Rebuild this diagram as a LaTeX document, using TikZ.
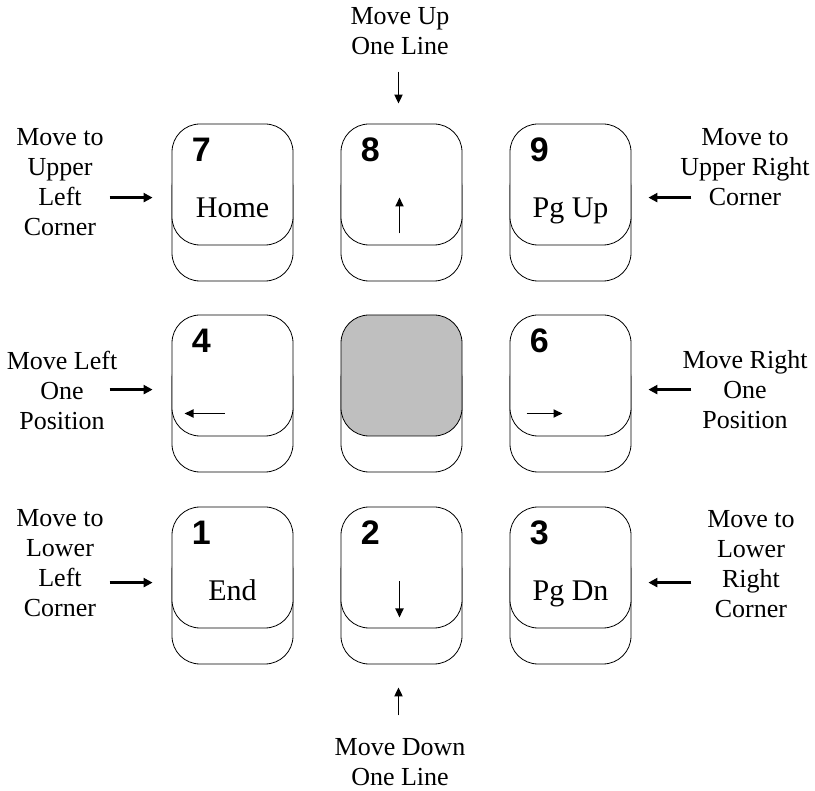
\documentclass[tikz,border=0pt]{standalone}
\usepackage{fontspec}
\setmainfont{Liberation Serif}
\setsansfont{Liberation Sans}
\usepackage{tikz}
\usetikzlibrary{arrows.meta}

\begin{document}
\begin{tikzpicture}[
  x=1pt,y=-1pt,
  keybase/.style={draw,line width=0.8pt,fill=white,rounded corners=28pt,
    minimum width=121pt,minimum height=121pt,inner sep=0pt},
  keyface/.style={keybase},
  blankface/.style={keybase,fill=black!25},
  digit/.style={font=\fontsize{34}{34}\sffamily\bfseries\selectfont,inner sep=0pt,anchor=base west},
  keytext/.style={font=\fontsize{30}{30}\selectfont,inner sep=0pt,anchor=base},
  caption/.style={font=\fontsize{26}{30}\selectfont,align=center,inner sep=0pt},
  sidearrow/.style={line width=2.6pt,-{Triangle[length=9pt,width=9pt]}},
  inarrow/.style={line width=1.9pt,-{Triangle[length=9pt,width=8pt]}}
  ]
  \useasboundingbox (0,0) rectangle (815,791);

  % top row
  \node[keybase] (b7) at (232.5,220.5) {};
  \node[keyface] (k7) at (232.5,184.5) {};
  \node[keybase] (b8) at (401.5,220.5) {};
  \node[keyface] (k8) at (401.5,184.5) {};
  \node[keybase] (b9) at (570.5,220.5) {};
  \node[keyface] (k9) at (570.5,184.5) {};

  % middle row
  \node[keybase] (b4) at (232.5,411.5) {};
  \node[keyface] (k4) at (232.5,375.5) {};
  \node[keybase] (b5) at (401.5,411.5) {};
  \node[blankface] (k5) at (401.5,375.5) {};
  \node[keybase] (b6) at (570.5,411.5) {};
  \node[keyface] (k6) at (570.5,375.5) {};

  % bottom row
  \node[keybase] (b1) at (232.5,603.5) {};
  \node[keyface] (k1) at (232.5,567.5) {};
  \node[keybase] (b2) at (401.5,603.5) {};
  \node[keyface] (k2) at (401.5,567.5) {};
  \node[keybase] (b3) at (570.5,603.5) {};
  \node[keyface] (k3) at (570.5,567.5) {};

  % digits
  \node[digit] (d7) at ([xshift=20pt,yshift=-38pt]k7.north west) {7};
  \node[digit] (d8) at ([xshift=20pt,yshift=-38pt]k8.north west) {8};
  \node[digit] (d9) at ([xshift=20pt,yshift=-38pt]k9.north west) {9};
  \node[digit] (d4) at ([xshift=20pt,yshift=-38pt]k4.north west) {4};
  \node[digit] (d6) at ([xshift=20pt,yshift=-38pt]k6.north west) {6};
  \node[digit] (d1) at ([xshift=20pt,yshift=-38pt]k1.north west) {1};
  \node[digit] (d2) at ([xshift=20pt,yshift=-38pt]k2.north west) {2};
  \node[digit] (d3) at ([xshift=20pt,yshift=-38pt]k3.north west) {3};

  % key legends
  \node[keytext] (t7) at ([yshift=-94pt]k7.north) {Home};
  \node[keytext] (t9) at ([yshift=-94pt]k9.north) {Pg Up};
  \node[keytext] (t1) at ([yshift=-94pt]k1.north) {End};
  \node[keytext] (t3) at ([yshift=-94pt]k3.north) {Pg Dn};

  \coordinate (u8s) at ([xshift=-2pt,yshift=-49pt]k8.center);
  \coordinate (u8e) at ([xshift=-2pt,yshift=-13pt]k8.center);
  \coordinate (d2s) at ([xshift=-2pt,yshift=-14pt]k2.center);
  \coordinate (d2e) at ([xshift=-2pt,yshift=-50pt]k2.center);
  \coordinate (l4s) at ([xshift=-8pt,yshift=-38pt]k4.center);
  \coordinate (l4e) at ([xshift=-48pt,yshift=-38pt]k4.center);
  \coordinate (r6s) at ([xshift=-44pt,yshift=-38pt]k6.center);
  \coordinate (r6e) at ([xshift=-8pt,yshift=-38pt]k6.center);
  \draw[inarrow] (u8s) -- (u8e);
  \draw[inarrow] (d2s) -- (d2e);
  \draw[inarrow] (l4s) -- (l4e);
  \draw[inarrow] (r6s) -- (r6e);

  % captions
  \node[caption] (up) at (400,31) {Move Up\\One Line};
  \node[caption] (down) at (400,762) {Move Down\\One Line};
  \node[caption] (ul) at (60,182) {Move to\\Upper\\Left\\Corner};
  \node[caption] (ur) at (745,167) {Move to\\Upper Right\\Corner};
  \node[caption] (ml) at (62,390) {Move Left\\One\\Position};
  \node[caption] (mr) at (745,390) {Move Right\\One\\Position};
  \node[caption] (ll) at (60,563) {Move to\\Lower\\Left\\Corner};
  \node[caption] (lr) at (751,564) {Move to\\Lower\\Right\\Corner};

  % pointers
  \coordinate (pu) at ([xshift=-3pt,yshift=52pt]k8.north);
  \coordinate (pd) at ([xshift=-3pt,yshift=-51pt]b2.south);
  \coordinate (p7) at ([xshift=-62pt,yshift=-74pt]k7.north west);
  \coordinate (p9) at ([xshift=60pt,yshift=-74pt]k9.north east);
  \coordinate (p4) at ([xshift=-62pt,yshift=-75pt]k4.north west);
  \coordinate (p6) at ([xshift=60pt,yshift=-75pt]k6.north east);
  \coordinate (p1) at ([xshift=-62pt,yshift=-76pt]k1.north west);
  \coordinate (p3) at ([xshift=60pt,yshift=-76pt]k3.north east);
  \draw[inarrow] (pu) -- ([xshift=-3pt,yshift=20pt]k8.north);
  \draw[inarrow] (pd) -- ([xshift=-3pt,yshift=-23pt]b2.south);
  \draw[sidearrow] (p7) -- ([xshift=-19pt]p7 -| k7.west);
  \draw[sidearrow] (p9) -- ([xshift=17pt]p9 -| k9.east);
  \draw[sidearrow] (p4) -- ([xshift=-19pt]p4 -| k4.west);
  \draw[sidearrow] (p6) -- ([xshift=17pt]p6 -| k6.east);
  \draw[sidearrow] (p1) -- ([xshift=-19pt]p1 -| k1.west);
  \draw[sidearrow] (p3) -- ([xshift=17pt]p3 -| k3.east);
\end{tikzpicture}
\end{document}
